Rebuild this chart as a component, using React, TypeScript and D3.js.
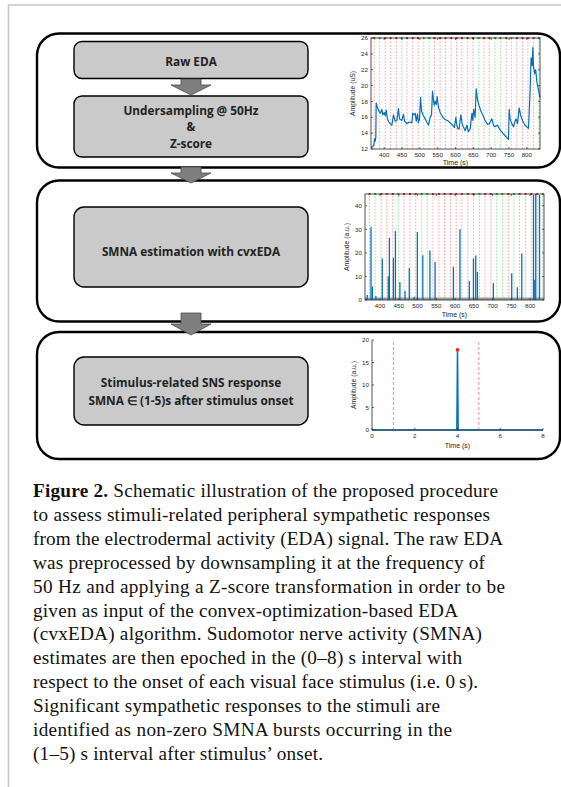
import React from "react";
import * as d3 from "d3";

const W = 561;
const H = 787;

// ---------- DATA ----------
const edaTime = [363.5, 368, 371, 373, 375, 376.5, 377.5, 380, 384, 389, 393.5, 396, 400, 403, 405.6, 409, 413, 417, 421.5, 426, 431, 435.5, 440, 443, 449.5, 454, 457, 463.5, 471, 477.6, 480, 484, 487, 490, 493.5, 496, 499, 502, 504.7, 510, 515, 519.6, 524, 529, 532.7, 535.5, 540, 543, 545.8, 548.6, 552, 557, 564.5, 571, 577.6, 585, 592.5, 597, 601, 603.7, 606.5, 610, 615, 618.7, 622, 627, 632, 636, 641, 646, 648.6, 651, 655, 658, 661.7, 666, 671, 676.6, 683, 690, 695, 702, 706.5, 711, 717.8, 725, 732.7, 739, 746.7, 748.6, 750.5, 753, 758, 762.6, 767, 770, 774, 778.5, 783, 788, 795, 804.7, 809, 812, 815, 817, 818.7, 822, 825, 828, 832.7, 837];
const edaValue = [12.2, 12.3, 12.5, 13.3, 13.0, 13.5, 17.8, 17.4, 16.9, 16.5, 17.0, 16.3, 16.6, 16.2, 16.9, 15.8, 15.4, 15.2, 15.0, 16.3, 15.5, 15.6, 17.1, 15.8, 15.6, 16.4, 15.5, 15.2, 15.4, 15.3, 16.5, 16.3, 16.5, 15.5, 16.4, 15.3, 15.8, 18.5, 16.8, 16.2, 15.8, 15.4, 15.0, 16.0, 16.3, 19.3, 17.5, 18.0, 17.6, 18.6, 17.3, 16.6, 16.0, 15.7, 15.6, 15.3, 15.0, 14.7, 16.0, 15.0, 14.6, 14.5, 16.3, 15.2, 14.8, 14.3, 15.0, 14.2, 14.5, 16.5, 15.6, 17.0, 16.0, 19.6, 18.2, 17.5, 16.8, 16.3, 15.6, 15.1, 15.2, 15.8, 15.0, 14.8, 15.0, 14.4, 14.0, 13.7, 13.3, 13.2, 17.0, 15.8, 15.2, 14.8, 15.5, 15.8, 15.2, 17.2, 16.2, 15.6, 15.0, 14.6, 19.0, 23.5, 22.5, 24.8, 22.5, 21.5, 22.0, 20.5, 19.5, 18.5];

const smnaTime = [366, 376, 379.6, 389, 406, 422, 425, 435.6, 441, 453, 466.7, 478, 491.5, 499.5, 514, 533, 546.7, 595.6, 613, 638, 649, 655, 659.6, 702, 751, 766, 777.8, 809, 812.4, 815, 825];
const smnaValue = [2.1, 31, 5.7, 1.7, 17.6, 10, 26.4, 17.9, 29.3, 7.6, 3.9, 13.6, 1.4, 28.9, 19, 21, 16.1, 14.1, 30, 8.1, 17.6, 18.9, 11.9, 7.1, 11.4, 5.4, 19.7, 44.6, 8.6, 45, 44.6];

const stimulusOnsets = [372, 387, 403, 418, 434, 449, 464, 480, 495, 511, 526, 541, 557, 572, 588, 603, 618, 634, 649, 665, 680, 695, 711, 726, 742, 757, 772, 788, 803, 819, 834];
const stimulusType = ["r", "g", "r", "r", "r", "g", "r", "r", "r", "g", "g", "r", "r", "r", "r", "r", "r", "r", "r", "g", "r", "r", "g", "g", "r", "g", "r", "r", "r", "r", "g"];

const epochTime = [0, 3.97, 4, 4.03, 8];
const epochValue = [0, 0, 17.8, 0, 0];
const epochPeak = [4, 17.8];
const epochWindow = [1, 5];

const edaXTicks = [400, 450, 500, 550, 600, 650, 700, 750, 800];
const edaYTicks = [12, 14, 16, 18, 20, 22, 24, 26];
const smnaYTicks = [0, 10, 20, 30, 40];
const epochXTicks = [0, 2, 4, 6, 8];
const epochYTicks = [0, 5, 10, 15, 20];

const captionLines = [
  "Schematic illustration of the proposed procedure",
  "to assess stimuli-related peripheral sympathetic responses",
  "from the electrodermal activity (EDA) signal. The raw EDA",
  "was preprocessed by downsampling it at the frequency of",
  "50 Hz and applying a Z-score transformation in order to be",
  "given as input of the convex-optimization-based EDA",
  "(cvxEDA) algorithm. Sudomotor nerve activity (SMNA)",
  "estimates are then epoched in the (0\u20138) s interval with",
  "respect to the onset of each visual face stimulus (i.e. 0\u2009s).",
  "Significant sympathetic responses to the stimuli are",
  "identified as non-zero SMNA bursts occurring in the",
  "(1\u20135) s interval after stimulus\u2019 onset.",
];
const captionRight = [498, 490, 503, 485, 505, 458, 482, 462, 478, 440, 452, 323];

// ---------- STYLE ----------
const AX = "#262626";
const BLUE = "#0072BD";
const RED_L = "#ff8c8c";
const GREEN_L = "#7fe07f";
const tickFont = "'Liberation Sans', Arial, sans-serif";

type Scale = d3.ScaleLinear<number, number>;

function Axes({ x, y, xt, yt, box, ylabel, xlabelY }: { x: Scale; y: Scale; xt: number[]; yt: number[]; box: boolean; ylabel: string; xlabelY: number }) {
  const [x0, x1] = x.range();
  const [y0, y1] = y.range();
  return (
    <g fontFamily={tickFont} fill={AX}>
      {box ? (
        <rect x={x0} y={y1} width={x1 - x0} height={y0 - y1} fill="none" stroke={AX} strokeWidth={0.8} />
      ) : (
        <path d={`M${x0},${y1}V${y0}H${x1}`} fill="none" stroke={AX} strokeWidth={0.8} />
      )}
      {xt.map((t) => (
        <g key={"x" + t}>
          <line x1={x(t)} x2={x(t)} y1={y0} y2={y0 - 2} stroke={AX} strokeWidth={0.7} />
          {box && <line x1={x(t)} x2={x(t)} y1={y1} y2={y1 + 2} stroke={AX} strokeWidth={0.7} />}
          <text x={x(t)} y={y0 + 8} fontSize={6.2} textAnchor="middle">{t}</text>
        </g>
      ))}
      {yt.map((t) => (
        <g key={"y" + t}>
          <line x1={x0} x2={x0 + 2} y1={y(t)} y2={y(t)} stroke={AX} strokeWidth={0.7} />
          {box && <line x1={x1} x2={x1 - 2} y1={y(t)} y2={y(t)} stroke={AX} strokeWidth={0.7} />}
          <text x={x0 - 3} y={y(t) + 2.2} fontSize={6.2} textAnchor="end">{t}</text>
        </g>
      ))}
      <text x={(x0 + x1) / 2} y={xlabelY} fontSize={7} textAnchor="middle">Time (s)</text>
      <text transform={`translate(${x0 - 16},${(y0 + y1) / 2}) rotate(-90)`} fontSize={6.8} textAnchor="middle">{ylabel}</text>
    </g>
  );
}

function Onsets({ x, y }: { x: Scale; y: Scale }) {
  const [y0, y1] = y.range();
  return (
    <g>
      {stimulusOnsets.map((t, i) => (
        <g key={i}>
          <line x1={x(t)} x2={x(t)} y1={y0} y2={y1} stroke={stimulusType[i] === "g" ? GREEN_L : RED_L} strokeWidth={0.8} strokeDasharray="1.6,1.6" />
          <rect x={x(t) - 1} y={y1 - 1} width={2} height={2} fill={stimulusType[i] === "g" ? "#1fc01f" : "#e02020"} />
        </g>
      ))}
    </g>
  );
}

function Arrow({ cx, top, neck, tip }: { cx: number; top: number; neck: number; tip: number }) {
  const s = 10, h = 20;
  const d = `M${cx - s},${top}H${cx + s}V${neck}H${cx + h}L${cx},${tip}L${cx - h},${neck}H${cx - s}Z`;
  return <path d={d} fill="#7f7f7f" stroke="#4a4a4a" strokeWidth={0.8} />;
}

export default function App() {
  const x1 = d3.scaleLinear().domain([363, 837]).range([371, 540]);
  const y1 = d3.scaleLinear().domain([12, 26]).range([149, 38]);
  const edaLine = d3.line<number>().x((_, i) => x1(edaTime[i])).y((v) => y1(v));

  const x2 = d3.scaleLinear().domain([360, 837]).range([365, 544]);
  const y2 = d3.scaleLinear().domain([0, 45]).range([300, 194]);

  const x3 = d3.scaleLinear().domain([0, 8]).range([372, 543]);
  const y3 = d3.scaleLinear().domain([0, 20]).range([430, 340]);
  const epochLine = d3.line<number>().x((_, i) => x3(epochTime[i])).y((v) => y3(v));

  const boxFont = "'Open Sans', 'Noto Sans', sans-serif";

  return (
    <svg width={W} height={H} style={{ position: "absolute", left: 0, top: 0, background: "#fff" }}>
      <path d={`M8.5,${H}V5H${W}`} fill="none" stroke="#c8c8c8" strokeWidth={1.6} />

      <rect x={37} y={33.5} width={523} height={134} rx={22} fill="none" stroke="#000" strokeWidth={2.4} />
      <rect x={37} y={180.5} width={523} height={141} rx={22} fill="none" stroke="#000" strokeWidth={2.4} />
      <rect x={37} y={332} width={523} height={127} rx={22} fill="none" stroke="#000" strokeWidth={2.4} />

      <rect x={74} y={41.5} width={234} height={37} rx={8} fill="#cacaca" stroke="#000" strokeWidth={1.4} />
      <rect x={74} y={96} width={234} height={61} rx={8} fill="#cacaca" stroke="#000" strokeWidth={1.4} />
      <rect x={74} y={207} width={234} height={80} rx={10} fill="#cacaca" stroke="#000" strokeWidth={1.4} />
      <rect x={74} y={357} width={234} height={68} rx={10} fill="#cacaca" stroke="#000" strokeWidth={1.4} />

      <g fontFamily={boxFont} fontWeight="bold" fontSize={11.8} fill="#222" textAnchor="middle">
        <text x={191} y={65.5}>Raw EDA</text>
        <text x={191} y={114.5}>Undersampling @ 50Hz</text>
        <text x={191} y={131}>&amp;</text>
        <text x={191} y={147.5}>Z-score</text>
        <text x={191} y={256}>SMNA estimation with cvxEDA</text>
        <text x={191} y={387}>Stimulus-related SNS response</text>
        <text x={191} y={404.5}>SMNA ∈ (1-5)s after stimulus onset</text>
      </g>

      <Arrow cx={191} top={79} neck={85} tip={95} />
      <Arrow cx={191} top={167} neck={173} tip={183} />
      <Arrow cx={191} top={313} neck={324} tip={335} />

      <Onsets x={x1} y={y1} />
      <path d={edaLine(edaValue) || ""} fill="none" stroke={BLUE} strokeWidth={1.2} strokeLinejoin="round" />
      <Axes x={x1} y={y1} xt={edaXTicks} yt={edaYTicks} box={true} ylabel="Amplitude (uS)" xlabelY={165} />

      <Onsets x={x2} y={y2} />
      <rect x={365} y={297.5} width={179} height={2.5} fill="#9a9a9a" />
      {smnaTime.map((t, i) => (
        <line key={i} x1={x2(t)} x2={x2(t)} y1={y2(0)} y2={y2(smnaValue[i])} stroke={BLUE} strokeWidth={1.3} />
      ))}
      <Axes x={x2} y={y2} xt={edaXTicks} yt={smnaYTicks} box={true} ylabel="Amplitude (a.u.)" xlabelY={317} />

      {epochWindow.map((t) => (
        <line key={t} x1={x3(t)} x2={x3(t)} y1={y3(0)} y2={y3(20)} stroke="#ff6b6b" strokeWidth={0.8} strokeDasharray="3,2" />
      ))}
      <path d={epochLine(epochValue) || ""} fill="none" stroke={BLUE} strokeWidth={1.5} />
      <circle cx={x3(epochPeak[0])} cy={y3(epochPeak[1])} r={1.8} fill="#ff2020" />
      <Axes x={x3} y={y3} xt={epochXTicks} yt={epochYTicks} box={false} ylabel="Amplitude (a.u.)" xlabelY={448} />

      <g fontFamily="'Liberation Serif', 'Times New Roman', serif" fontSize={19.2} fill="#111">
        {captionLines.map((line, i) => (
          <text key={i} x={33} y={497 + i * 23.9} textLength={captionRight[i] - 33} lengthAdjust="spacing">
            {i === 0 ? <tspan fontWeight="bold">Figure 2. </tspan> : null}
            {line}
          </text>
        ))}
      </g>
    </svg>
  );
}
